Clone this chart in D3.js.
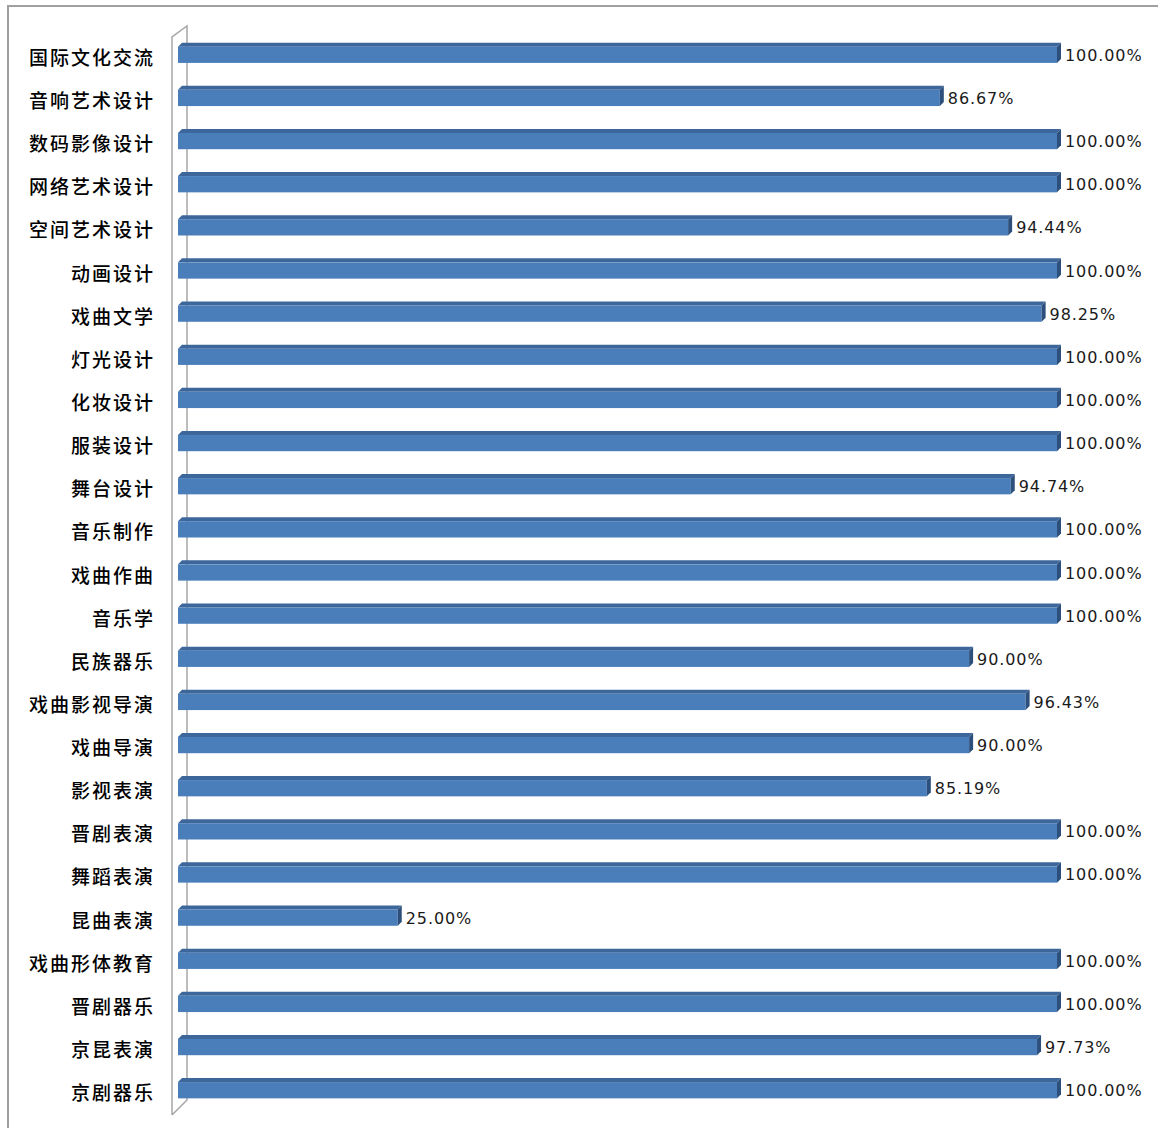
<!DOCTYPE html>
<html><head><meta charset="utf-8">
<script src="https://cdn.jsdelivr.net/npm/d3@7/dist/d3.min.js"></script>
<style>body{margin:0;background:#fff}svg{display:block}</style>
</head><body>
<svg id="c" width="1158" height="1128"></svg>
<script>
const categories = ["国际文化交流","音响艺术设计","数码影像设计","网络艺术设计","空间艺术设计","动画设计","戏曲文学","灯光设计","化妆设计","服装设计","舞台设计","音乐制作","戏曲作曲","音乐学","民族器乐","戏曲影视导演","戏曲导演","影视表演","晋剧表演","舞蹈表演","昆曲表演","戏曲形体教育","晋剧器乐","京昆表演","京剧器乐"];
const values = [100,86.67,100,100,94.44,100,98.25,100,100,100,94.74,100,100,100,90,96.43,90,85.19,100,100,25,100,100,97.73,100];
const valueLabels = ["100.00%","86.67%","100.00%","100.00%","94.44%","100.00%","98.25%","100.00%","100.00%","100.00%","94.74%","100.00%","100.00%","100.00%","90.00%","96.43%","90.00%","85.19%","100.00%","100.00%","25.00%","100.00%","100.00%","97.73%","100.00%"];

const svg = d3.select("#c");
svg.append("rect").attr("x",8).attr("y",6).attr("width",1160).attr("height",1140)
  .attr("fill","#fff").attr("stroke","#a0a0a0").attr("stroke-width",2);

const x = d3.scaleLinear().domain([0,100]).range([178,1057]);
const y = d3.scaleBand().domain(categories).range([31,1110]).paddingInner(0.53).paddingOuter(0.27);
const d = 4;

const wall = svg.append("g").attr("fill","none").attr("stroke","#a6a6a6").attr("stroke-width",1.5);
wall.append("path").attr("d",`M172,1115 L172,37 L187,26 L187,1100 L172,1115`).attr("fill","#fff");

const g = svg.append("g");
const rows = g.selectAll("g.bar").data(categories.map((c,i)=>({c,v:values[i],l:valueLabels[i]}))).join("g");
rows.each(function(r){
  const s = d3.select(this);
  const x0 = x(0), x1 = x(r.v), t = y(r.c), b = t + y.bandwidth();
  s.append("path").attr("d",`M${x0},${t+d} L${x0+d},${t} L${x1+d},${t} L${x1},${t+d} Z`).attr("fill","#3d679b");
  s.append("rect").attr("x",x0).attr("y",t+d).attr("width",x1-x0).attr("height",b-t-d).attr("fill","#4a7ebb");
  s.append("path").attr("d",`M${x1},${t+d} L${x1+d},${t} L${x1+d},${b-d} L${x1},${b} Z`).attr("fill","#2c4f7c");
  s.append("text").attr("x",x1+d+4).attr("y",(t+b)/2+8).text(r.l)
    .attr("font-family","DejaVu Sans").attr("font-size",16).attr("fill","#1a1a1a").attr("letter-spacing",0.9);
});

svg.append("g").selectAll("text").data(categories).join("text")
  .attr("x",155).attr("y",c=>y(c)+y.bandwidth()/2+12).attr("text-anchor","end")
  .attr("font-family","Noto Sans CJK SC").attr("font-weight",500).attr("font-size",19).attr("letter-spacing",2).attr("fill","#000")
  .text(c=>c);
</script>
</body></html>
